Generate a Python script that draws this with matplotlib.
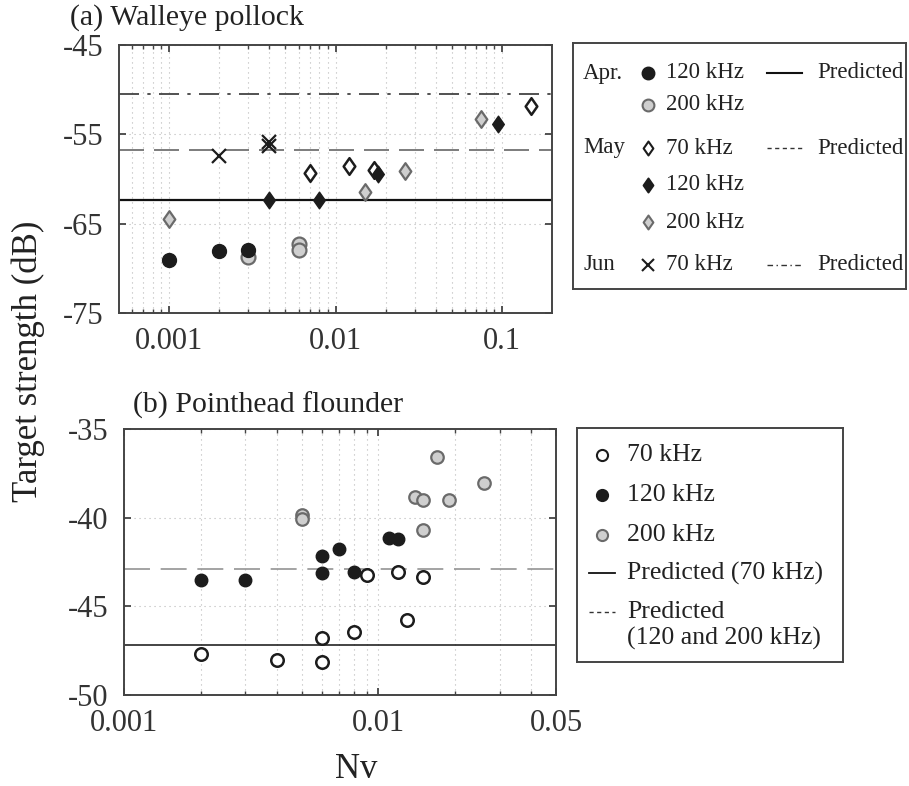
import matplotlib
matplotlib.use("Agg")
import matplotlib.pyplot as plt
from matplotlib.path import Path
from matplotlib.ticker import FixedLocator, NullFormatter
import numpy as np

# ---- (a) Walleye pollock ----
apr120_nv = [0.001, 0.002, 0.003]
apr120_ts = [-69.1, -68.1, -67.95]
apr200_nv = [0.003, 0.006, 0.006]
apr200_ts = [-68.7, -67.3, -67.9]
may70_nv = [0.007, 0.012, 0.017, 0.15]
may70_ts = [-59.3, -58.6, -59.0, -51.8]
may120_nv = [0.004, 0.008, 0.018, 0.095]
may120_ts = [-62.4, -62.4, -59.4, -53.8]
may200_nv = [0.001, 0.015, 0.026, 0.075]
may200_ts = [-64.5, -61.5, -59.1, -53.3]
jun70_nv = [0.002, 0.004, 0.004]
jun70_ts = [-57.4, -55.9, -56.3]
pred_apr = -62.4
pred_may = -56.8
pred_jun = -50.5

# ---- (b) Pointhead flounder ----
fl70_nv = [0.002, 0.004, 0.006, 0.006, 0.008, 0.009, 0.012, 0.013, 0.015]
fl70_ts = [-47.67, -48.0, -46.8, -48.12, -46.46, -43.22, -43.05, -45.75, -43.33]
fl120_nv = [0.002, 0.003, 0.006, 0.006, 0.007, 0.008, 0.011, 0.012]
fl120_ts = [-43.52, -43.54, -42.15, -43.1, -41.76, -43.07, -41.14, -41.22]
fl200_nv = [0.005, 0.005, 0.014, 0.015, 0.015, 0.017, 0.019, 0.026]
fl200_ts = [-39.83, -40.07, -38.82, -39.02, -40.67, -36.57, -39.02, -38.07]
pred_fl70 = -47.2
pred_fl120_200 = -42.9

plt.rcParams['font.family'] = ['Liberation Serif', 'DejaVu Serif']

BLACK = '#1c1c1c'
GRAY_FILL = '#cfcfcf'
GRAY_EDGE = '#6a6a6a'
FRAME = '#444444'
TXT = '#333333'

# MATLAB-style diamond, taller than wide
diamond = Path([(0, 1), (0.7, 0), (0, -1), (-0.7, 0), (0, 1)],
               [Path.MOVETO, Path.LINETO, Path.LINETO, Path.LINETO, Path.CLOSEPOLY])

W, H = 909, 786
fig = plt.figure(figsize=(W / 100, H / 100), dpi=100)


def px_axes(left, top, right, bottom):
    return fig.add_axes([left / W, 1 - bottom / H, (right - left) / W, (bottom - top) / H])


def style_axes(ax):
    for sp in ax.spines.values():
        sp.set_color(FRAME)
        sp.set_linewidth(1.4)
    ax.tick_params(which='both', direction='in', top=True, right=True,
                   colors=FRAME, labelcolor=TXT, labelsize=22)
    ax.tick_params(which='major', length=5, width=1.3)
    ax.tick_params(axis='y', which='major', pad=11)
    ax.tick_params(axis='x', which='major', pad=10)
    ax.tick_params(which='minor', length=3, width=1.0)
    ax.tick_params(axis='y', which='minor', left=False, right=False)
    ax.grid(True, which='both', axis='x', color='#b8b8b8', lw=0.8, ls=(0, (1, 3.5)))
    ax.grid(True, which='major', axis='y', color='#b8b8b8', lw=0.8, ls=(0, (1, 3.5)))
    ax.set_axisbelow(True)


# top panel
ax1 = px_axes(119, 45, 552, 313)
ax1.set_xscale('log')
ax1.set_xlim(0.0005, 0.2)
ax1.set_ylim(-75, -45)
ax1.set_yticks([-75, -65, -55, -45])
ax1.set_yticklabels(['-75', '-65', '-55', '-45'])
ax1.xaxis.set_major_locator(FixedLocator([0.001, 0.01, 0.1]))
ax1.set_xticklabels(['0.001', '0.01', '0.1'])
minors = [m * 10.0 ** e for e in (-4, -3, -2, -1) for m in range(2, 10)]
ax1.xaxis.set_minor_locator(FixedLocator([v for v in minors if 0.0005 < v < 0.2]))
ax1.xaxis.set_minor_formatter(NullFormatter())
style_axes(ax1)

ax1.axhline(pred_apr, color='#111111', lw=1.6)
ax1.axhline(pred_may, color='#666666', lw=1.2, dashes=(15, 6))
ax1.axhline(pred_jun, color='#333333', lw=1.2, dashes=(12, 5, 2, 5))

ax1.plot(apr200_nv, apr200_ts, 'o', ms=10, mfc=GRAY_FILL, mec=GRAY_EDGE, mew=1.6, ls='none')
ax1.plot(apr120_nv, apr120_ts, 'o', ms=10, mfc=BLACK, mec=BLACK, mew=1.0, ls='none')
ax1.plot(may70_nv, may70_ts, marker=diamond, ms=12, mfc='white', mec=BLACK, mew=1.8, ls='none')
ax1.plot(may200_nv, may200_ts, marker=diamond, ms=12, mfc=GRAY_FILL, mec=GRAY_EDGE, mew=1.6, ls='none')
ax1.plot(may120_nv, may120_ts, marker=diamond, ms=12, mfc=BLACK, mec=BLACK, mew=1.0, ls='none')
ax1.plot(jun70_nv, jun70_ts, 'x', ms=10, mec=BLACK, mew=1.6, ls='none')

# bottom panel
ax2 = px_axes(124, 429, 556, 695)
ax2.set_xscale('log')
ax2.set_xlim(0.001, 0.05)
ax2.set_ylim(-50, -35)
ax2.set_yticks([-50, -45, -40, -35])
ax2.set_yticklabels(['-50', '-45', '-40', '-35'])
ax2.xaxis.set_major_locator(FixedLocator([0.001, 0.01, 0.05]))
ax2.set_xticklabels(['0.001', '0.01', '0.05'])
ax2.xaxis.set_minor_locator(FixedLocator([v for v in minors if 0.001 < v < 0.05]))
ax2.xaxis.set_minor_formatter(NullFormatter())
style_axes(ax2)

ax2.axhline(pred_fl70, color='#111111', lw=1.1)
ax2.axhline(pred_fl120_200, color='#8a8a8a', lw=1.1, dashes=(17, 7))

ax2.plot(fl70_nv, fl70_ts, 'o', ms=9, mfc='white', mec=BLACK, mew=1.8, ls='none')
ax2.plot(fl200_nv, fl200_ts, 'o', ms=9, mfc=GRAY_FILL, mec=GRAY_EDGE, mew=1.6, ls='none')
ax2.plot(fl120_nv, fl120_ts, 'o', ms=9, mfc=BLACK, mec=BLACK, mew=1.0, ls='none')

# titles and shared labels
fig.text(70 / W, 1 - 18 / H, '(a) Walleye pollock', fontsize=21.5, color='#222222',
         ha='left', va='center')
fig.text(133 / W, 1 - 405 / H, '(b) Pointhead flounder', fontsize=21.5, color='#222222',
         ha='left', va='center')
fig.text(28 / W, 1 - 361 / H, 'Target strength (dB)', fontsize=25, color='#222222',
         rotation=90, ha='center', va='center')
fig.text(356 / W, 1 - 770 / H, 'Nv', fontsize=25, color='#222222', ha='center', va='center')


# legend boxes drawn in pixel coordinates
def legend_axes(left, top, right, bottom):
    lg = px_axes(left, top, right, bottom)
    lg.set_xlim(left, right)
    lg.set_ylim(bottom, top)
    lg.set_xticks([])
    lg.set_yticks([])
    for sp in lg.spines.values():
        sp.set_color(FRAME)
        sp.set_linewidth(1.4)
    return lg


LFS = 16.5
lg1 = legend_axes(573, 43, 906, 289)
for label, y in [('Apr.', 73), ('May', 148), ('Jun', 265)]:
    lg1.text(583, y, label, fontsize=LFS, color='#222222', ha='left', va='center')
rows = [
    (73, 'o', BLACK, BLACK, '120 kHz'),
    (105, 'o', GRAY_FILL, GRAY_EDGE, '200 kHz'),
    (148, diamond, 'white', BLACK, '70 kHz'),
    (185, diamond, BLACK, BLACK, '120 kHz'),
    (222, diamond, GRAY_FILL, GRAY_EDGE, '200 kHz'),
    (265, 'x', BLACK, BLACK, '70 kHz'),
]
for y, mk, fc, ec, label in rows:
    size = 10 if mk is diamond else 8.5
    lg1.plot([648], [y], marker=mk, ms=size, mfc=fc, mec=ec, mew=1.5, ls='none')
    lg1.text(666, y, label, fontsize=LFS, color='#222222', ha='left', va='center')
pred_rows = [
    (73, dict(color='#111111', lw=1.5)),
    (148, dict(color='#333333', lw=1.0, dashes=(3, 2.5))),
    (265, dict(color='#333333', lw=1.0, dashes=(4, 2.5, 1, 2.5))),
]
for y, kw in pred_rows:
    lg1.plot([767, 802], [y, y], **kw)
    lg1.text(817, y, 'Predicted', fontsize=LFS, color='#222222', ha='left', va='center')

LFS2 = 18.5
lg2 = legend_axes(577, 428, 843, 662)
for y, fc, ec, label in [(455, 'white', BLACK, '70 kHz'),
                         (495, BLACK, BLACK, '120 kHz'),
                         (535, GRAY_FILL, GRAY_EDGE, '200 kHz')]:
    lg2.plot([602], [y], 'o', ms=8, mfc=fc, mec=ec, mew=1.5, ls='none')
    lg2.text(627, y, label, fontsize=LFS2, color='#222222', ha='left', va='center')
lg2.plot([589, 615], [573, 573], color='#111111', lw=1.3)
lg2.text(627, 573, 'Predicted (70 kHz)', fontsize=LFS2, color='#222222', ha='left', va='center')
lg2.plot([589, 615], [612, 612], color='#333333', lw=1.0, dashes=(3, 2.5))
lg2.text(627, 612, 'Predicted', fontsize=LFS2, color='#222222', ha='left', va='center')
lg2.text(627, 638, '(120 and 200 kHz)', fontsize=LFS2, color='#222222', ha='left', va='center')

fig.savefig('out.png', dpi=100, facecolor='white')
